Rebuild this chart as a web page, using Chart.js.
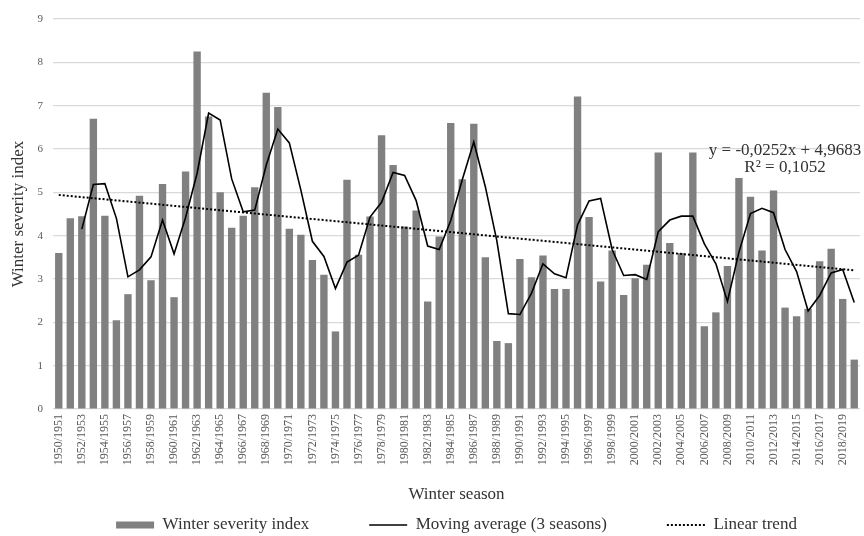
<!DOCTYPE html>
<html>
<head>
<meta charset="utf-8">
<title>Winter severity index</title>
<script src="https://cdn.jsdelivr.net/npm/chart.js@4.4.1/dist/chart.umd.min.js"></script>
<style>
    html, body { margin: 0; padding: 0; background: #ffffff; }
    #wrap { width: 864px; height: 536px; }
</style>
</head>
<body>
<div id="wrap"><canvas id="winterChart" width="864" height="536"></canvas></div>
<script>
const seasons = [
    '1950/1951', '1951/1952', '1952/1953', '1953/1954', '1954/1955', '1955/1956', '1956/1957', '1957/1958', '1958/1959', '1959/1960',
    '1960/1961', '1961/1962', '1962/1963', '1963/1964', '1964/1965', '1965/1966', '1966/1967', '1967/1968', '1968/1969', '1969/1970',
    '1970/1971', '1971/1972', '1972/1973', '1973/1974', '1974/1975', '1975/1976', '1976/1977', '1977/1978', '1978/1979', '1979/1980',
    '1980/1981', '1981/1982', '1982/1983', '1983/1984', '1984/1985', '1985/1986', '1986/1987', '1987/1988', '1988/1989', '1989/1990',
    '1990/1991', '1991/1992', '1992/1993', '1993/1994', '1994/1995', '1995/1996', '1996/1997', '1997/1998', '1998/1999', '1999/2000',
    '2000/2001', '2001/2002', '2002/2003', '2003/2004', '2004/2005', '2005/2006', '2006/2007', '2007/2008', '2008/2009', '2009/2010',
    '2010/2011', '2011/2012', '2012/2013', '2013/2014', '2014/2015', '2015/2016', '2016/2017', '2017/2018', '2018/2019', '2019/2020'
];

const severityIndex = [
    3.60, 4.40, 4.45, 6.70, 4.46, 2.05, 2.65, 4.92, 2.97, 5.19,
    2.58, 5.48, 8.25, 6.75, 5.00, 4.18, 4.46, 5.12, 7.30, 6.97,
    4.16, 4.02, 3.44, 3.10, 1.79, 5.29, 3.56, 4.44, 6.32, 5.63,
    4.21, 4.58, 2.48, 3.98, 6.60, 5.30, 6.58, 3.50, 1.57, 1.52,
    3.46, 3.04, 3.54, 2.77, 2.77, 7.21, 4.43, 2.94, 3.66, 2.63,
    3.02, 3.33, 5.92, 3.83, 3.60, 5.92, 1.91, 2.23, 3.30, 5.33,
    4.90, 3.66, 5.04, 2.34, 2.14, 2.31, 3.41, 3.70, 2.54, 1.14
];

// moving average line (starts at the third season)
const movingAverage = [
    null, null, 4.15, 5.18, 5.20, 4.40, 3.05, 3.21, 3.51, 4.36,
    3.58, 4.42, 5.44, 6.83, 6.67, 5.31, 4.55, 4.59, 5.63, 6.46,
    6.14, 5.05, 3.87, 3.52, 2.78, 3.39, 3.55, 4.43, 4.77, 5.46,
    5.39, 4.81, 3.76, 3.68, 4.35, 5.29, 6.16, 5.13, 3.88, 2.20,
    2.18, 2.67, 3.35, 3.12, 3.03, 4.25, 4.80, 4.86, 3.68, 3.08,
    3.10, 2.99, 4.09, 4.36, 4.45, 4.45, 3.81, 3.35, 2.48, 3.62,
    4.51, 4.63, 4.53, 3.68, 3.17, 2.26, 2.62, 3.14, 3.22, 2.46
];

// linear trend end points
const trendSeasons = ['1950/1951', '2019/2020'];
const trendValues = [4.94, 3.20];

const trendLabel = ['y = -0,0252x + 4,9683', 'R\u00B2 = 0,1052'];
const legendSymbols = ['rect', 'line', 'line'];

const colors = {
    bar: '#808080',
    line: '#000000',
    grid: '#d9d9d9',
    tick: '#595959',
    text: '#333333'
};

const serif = '"Liberation Serif", "Times New Roman", serif';

const trendText = {
    id: 'trendText',
    afterDatasetsDraw(chart) {
        const {ctx, chartArea, scales} = chart;
        ctx.save();
        ctx.font = '17px ' + serif;
        ctx.fillStyle = colors.text;
        ctx.textAlign = 'center';
        ctx.textBaseline = 'middle';
        const x = chartArea.right - 75;
        ctx.fillText(trendLabel[0], x, scales.y.getPixelForValue(5.96));
        ctx.fillText(trendLabel[1], x, scales.y.getPixelForValue(5.57));
        ctx.restore();
    }
};

// the legend needs wide gaps between items, which in chart.js also pushes
// the row down; raise the top of its box a little after layout
const legendLift = {
    id: 'legendLift',
    afterLayout(chart) {
        const legend = chart.legend;
        if (!legend) return;
        legend.top -= 11.5;
    }
};

const ctx = document.getElementById('winterChart').getContext('2d');

const datasets = [
    {
        type: 'bar',
        label: 'Winter severity index',
        data: severityIndex,
        backgroundColor: colors.bar,
        borderWidth: 0,
        barPercentage: 0.64,
        categoryPercentage: 1.0,
        order: 3
    },
    {
        type: 'line',
        label: 'Moving average (3 seasons)',
        data: movingAverage,
        borderColor: colors.line,
        backgroundColor: colors.line,
        borderWidth: 1.6,
        pointRadius: 0,
        tension: 0,
        order: 2
    },
    {
        type: 'line',
        label: 'Linear trend',
        data: trendSeasons.map((s, i) => ({x: s, y: trendValues[i]})),
        borderColor: colors.line,
        backgroundColor: colors.line,
        borderWidth: 2,
        borderDash: [2, 2],
        pointRadius: 0,
        order: 1
    }
];

new Chart(ctx, {
    data: {
        labels: seasons,
        datasets: datasets
    },
    options: {
        responsive: false,
        animation: false,
        devicePixelRatio: 1,
        layout: {
            padding: { top: 19, left: 0, right: 4, bottom: 0 }
        },
        plugins: {
            tooltip: { enabled: false },
            legend: {
                position: 'bottom',
                align: 'center',
                fullSize: false,
                maxHeight: 68,
                labels: {
                    usePointStyle: true,
                    pointStyleWidth: 38,
                    boxHeight: 7,
                    padding: 60,
                    color: colors.text,
                    font: { family: serif, size: 17 },
                    sort: (a, b) => a.datasetIndex - b.datasetIndex,
                    generateLabels: chart => Chart.defaults.plugins.legend.labels.generateLabels(chart).map(item => {
                        const ds = datasets[item.datasetIndex];
                        item.pointStyle = legendSymbols[item.datasetIndex];
                        if (ds.type === 'line') {
                            item.strokeStyle = ds.borderColor;
                            item.lineWidth = ds.borderWidth;
                            item.lineDash = ds.borderDash || [];
                        }
                        return item;
                    })
                }
            }
        },
        scales: {
            x: {
                grid: { display: false, drawTicks: false },
                border: { display: false },
                ticks: {
                    autoSkip: false,
                    minRotation: 90,
                    maxRotation: 90,
                    padding: 5,
                    color: colors.tick,
                    font: { family: serif, size: 12 },
                    callback: (value, index) => index % 2 === 0 ? seasons[index] : null
                },
                title: {
                    display: true,
                    text: 'Winter season',
                    color: colors.text,
                    font: { family: serif, size: 17 },
                    padding: { top: 0, bottom: -37.2 }
                },
                afterFit: scale => { scale.height = 59; }
            },
            y: {
                min: 0,
                max: 9,
                grid: { color: colors.grid, lineWidth: 1.2, drawTicks: false },
                border: { display: false },
                ticks: {
                    stepSize: 1,
                    padding: 10,
                    color: colors.tick,
                    font: { family: serif, size: 11 }
                },
                title: {
                    display: true,
                    text: 'Winter severity index',
                    color: colors.text,
                    font: { family: serif, size: 17 },
                    padding: { top: 8, bottom: 0 }
                },
                afterFit: scale => { scale.width = 53; }
            }
        }
    },
    plugins: [trendText, legendLift]
});
</script>
</body>
</html>
